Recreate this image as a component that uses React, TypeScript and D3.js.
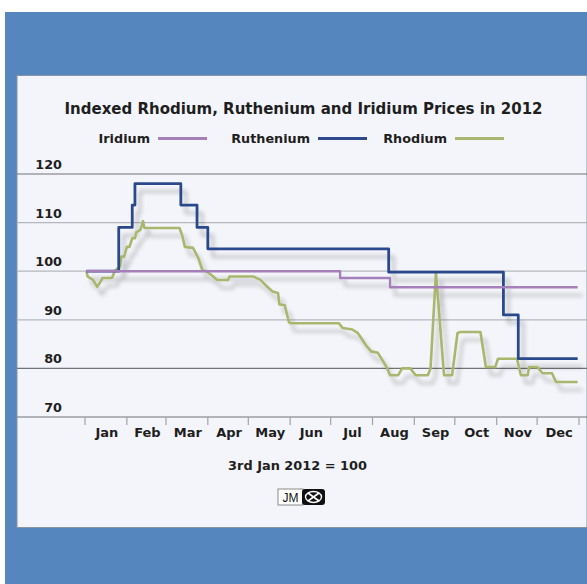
import React from "react";
import * as d3 from "d3";

const months = ["Jan", "Feb", "Mar", "Apr", "May", "Jun", "Jul", "Aug", "Sep", "Oct", "Nov", "Dec"];
const yTicks = [70, 80, 90, 100, 110, 120];
const darkGrid = [70, 80, 120];

const iridium: [string, number][] = [
  ["2012-01-02", 100], ["2012-07-08", 98.6], ["2012-08-14", 96.7], ["2012-12-31", 96.7],
];

const ruthenium: [string, number][] = [
  ["2012-01-02", 100], ["2012-01-26", 109], ["2012-02-05", 113.6], ["2012-02-07", 118],
  ["2012-03-12", 113.6], ["2012-03-24", 109], ["2012-04-01", 104.6], ["2012-08-13", 99.8],
  ["2012-11-06", 91], ["2012-11-17", 82], ["2012-12-31", 82],
];

const rhodium: [string, number][] = [
  ["2012-01-02", 100], ["2012-01-03", 98.9], ["2012-01-07", 98.2], ["2012-01-10", 96.8],
  ["2012-01-12", 97.6], ["2012-01-14", 98.6], ["2012-01-21", 98.6], ["2012-01-23", 100],
  ["2012-01-27", 101], ["2012-01-28", 103], ["2012-01-30", 103], ["2012-02-01", 105],
  ["2012-02-03", 105], ["2012-02-05", 106.8], ["2012-02-07", 106.8], ["2012-02-08", 108],
  ["2012-02-11", 108.5], ["2012-02-13", 110.3], ["2012-02-14", 108.9], ["2012-03-11", 108.9],
  ["2012-03-13", 107.4], ["2012-03-15", 105], ["2012-03-21", 104.8], ["2012-03-25", 102.7],
  ["2012-03-28", 100.2], ["2012-03-31", 100], ["2012-04-05", 98.9], ["2012-04-08", 98.2],
  ["2012-04-16", 98.2], ["2012-04-17", 98.9], ["2012-05-05", 98.9], ["2012-05-10", 98.2],
  ["2012-05-15", 96.8], ["2012-05-19", 95.8], ["2012-05-23", 95.5], ["2012-05-24", 93.2],
  ["2012-05-28", 93], ["2012-05-31", 89.6], ["2012-06-01", 89.3], ["2012-07-07", 89.3],
  ["2012-07-10", 88.3], ["2012-07-17", 88], ["2012-07-21", 87.3], ["2012-07-23", 86.5],
  ["2012-07-27", 84.8], ["2012-07-31", 83.5], ["2012-08-05", 83.2], ["2012-08-09", 81.4],
  ["2012-08-12", 80], ["2012-08-14", 78.6], ["2012-08-20", 78.6], ["2012-08-23", 80],
  ["2012-08-29", 80], ["2012-09-02", 78.6], ["2012-09-11", 78.6], ["2012-09-13", 80],
  ["2012-09-17", 99.7], ["2012-09-23", 78.6], ["2012-09-29", 78.6], ["2012-10-03", 87.3],
  ["2012-10-05", 87.5], ["2012-10-20", 87.5], ["2012-10-24", 80.3], ["2012-10-31", 80.3],
  ["2012-11-02", 82], ["2012-11-16", 82], ["2012-11-19", 78.6], ["2012-11-24", 78.6],
  ["2012-11-25", 80.3], ["2012-12-01", 80.3], ["2012-12-05", 79], ["2012-12-12", 79],
  ["2012-12-15", 77.2], ["2012-12-31", 77.2],
];

const legendItems = [
  { name: "Iridium", color: "#a57fba" },
  { name: "Ruthenium", color: "#2c4a8c" },
  { name: "Rhodium", color: "#a9b66e" },
];

const W = 587;
const H = 584;
const FONT = "'DejaVu Sans', Verdana, sans-serif";
const parse = d3.timeParse("%Y-%m-%d");

export default function App() {
  const x = d3
    .scaleTime()
    .domain([new Date(2012, 0, 1), new Date(2013, 0, 1)])
    .range([85, 579]);
  const y = d3.scaleLinear().domain([70, 120]).range([417, 174]);

  const toPts = (arr: [string, number][]) => arr.map(([d, v]) => ({ d: parse(d) as Date, v }));
  const stepLine = d3
    .line<{ d: Date; v: number }>()
    .x((p) => x(p.d))
    .y((p) => y(p.v))
    .curve(d3.curveStepAfter);
  const linLine = d3
    .line<{ d: Date; v: number }>()
    .x((p) => x(p.d))
    .y((p) => y(p.v));

  const monthStarts = d3.timeMonth.range(new Date(2012, 0, 1), new Date(2013, 0, 2));
  const legendLineX = [158, 318, 455];

  const series = [
    { path: linLine(toPts(rhodium)), color: legendItems[2].color, w: 2.6 },
    { path: stepLine(toPts(ruthenium)), color: legendItems[1].color, w: 2.8 },
    { path: stepLine(toPts(iridium)), color: legendItems[0].color, w: 2.4 },
  ];

  return (
    <svg
      width={W}
      height={H}
      style={{ position: "absolute", left: 0, top: 0, background: "#ffffff" }}
      fontFamily={FONT}
    >
      <defs>
        <filter id="shadow" x="-10%" y="-10%" width="130%" height="130%">
          <feGaussianBlur in="SourceAlpha" stdDeviation="2.2" result="blur" />
          <feOffset in="blur" dx="5" dy="8" result="off" />
          <feComponentTransfer in="off" result="soft">
            <feFuncA type="linear" slope="0.22" />
          </feComponentTransfer>
          <feMerge>
            <feMergeNode in="soft" />
            <feMergeNode in="SourceGraphic" />
          </feMerge>
        </filter>
      </defs>
      <rect x={5} y={12} width={W - 5} height={H - 12} fill="#5587be" />
      <rect x={17} y={75.5} width={W - 17} height={452} fill="#f4f5fa" stroke="#8794a6" strokeWidth={1} />

      <text x={303.5} y={114} textAnchor="middle" fontSize={15} fontWeight={700} fill="#1e1e1e">
        Indexed Rhodium, Ruthenium and Iridium Prices in 2012
      </text>

      {legendItems.map((it, i) => (
        <g key={it.name}>
          <text x={legendLineX[i] - 8} y={143} textAnchor="end" fontSize={12.8} fontWeight={700} fill="#1e1e1e">
            {it.name}
          </text>
          <line
            x1={legendLineX[i]}
            x2={legendLineX[i] + 49}
            y1={138.5}
            y2={138.5}
            stroke={it.color}
            strokeWidth={3.2}
          />
        </g>
      ))}

      {yTicks.map((t) => (
        <g key={t}>
          <line
            x1={17}
            x2={W}
            y1={y(t)}
            y2={y(t)}
            stroke={darkGrid.includes(t) ? "#6f7379" : "#b5b7bc"}
            strokeWidth={1.2}
          />
          <text x={62} y={y(t) - 5} textAnchor="end" fontSize={12.8} fontWeight={700} fill="#1e1e1e">
            {t}
          </text>
        </g>
      ))}

      {monthStarts.map((m, i) => (
        <line key={i} x1={x(m)} x2={x(m)} y1={417} y2={425} stroke="#a0a2a8" strokeWidth={1.2} />
      ))}
      {monthStarts.slice(0, 12).map((m, i) => {
        const next = d3.timeMonth.offset(m, 1);
        return (
          <text
            key={i}
            x={(x(m) + x(next)) / 2 + 1}
            y={437}
            textAnchor="middle"
            fontSize={13}
            fontWeight={700}
            fill="#1e1e1e"
          >
            {months[i]}
          </text>
        );
      })}

      <g filter="url(#shadow)">
        {series.map((s, i) => (
          <path
            key={i}
            d={s.path || ""}
            fill="none"
            stroke={s.color}
            strokeWidth={s.w}
            strokeLinejoin="round"
          />
        ))}
      </g>

      <text x={297.5} y={470} textAnchor="middle" fontSize={12.9} fontWeight={700} fill="#1e1e1e">
        3rd Jan 2012 = 100
      </text>

      <g>
        <rect x={278} y={489} width={25} height={16} fill="#ffffff" stroke="#8a8a8a" strokeWidth={1} />
        <text x={290.5} y={502} textAnchor="middle" fontSize={12} fontFamily="'Liberation Sans', Arial, sans-serif" fill="#111">
          JM
        </text>
        <rect x={302} y={489} width={23} height={16} rx={3} fill="#111" />
        <ellipse cx={313.5} cy={497} rx={8} ry={5.5} fill="none" stroke="#fff" strokeWidth={1.4} />
        <line x1={308} y1={493} x2={319} y2={501} stroke="#fff" strokeWidth={1.6} />
        <line x1={319} y1={493} x2={308} y2={501} stroke="#fff" strokeWidth={1.6} />
      </g>
    </svg>
  );
}
